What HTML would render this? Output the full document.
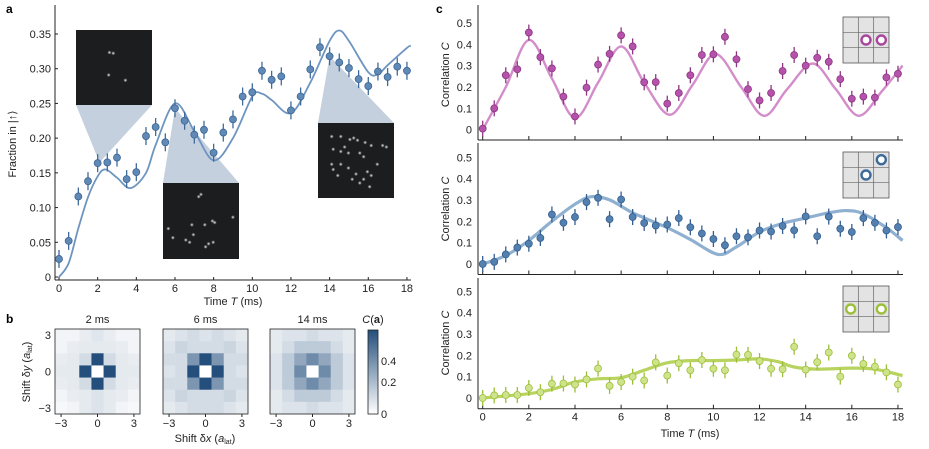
<!DOCTYPE html>
<html><head><meta charset="utf-8"><style>
body{margin:0;background:#fff;}
svg{display:block;font-family:"Liberation Sans",sans-serif;}
</style></head><body>
<svg id="fig" width="929" height="449" viewBox="0 0 929 449" xmlns="http://www.w3.org/2000/svg">
<defs>
<linearGradient id="cbar" x1="0" y1="1" x2="0" y2="0"><stop offset="0" stop-color="#ffffff"/><stop offset="1" stop-color="#244f7c"/></linearGradient>
<radialGradient id="dot"><stop offset="0" stop-color="#e8e8e8"/><stop offset="1" stop-color="#e8e8e8" stop-opacity="0"/></radialGradient>
</defs>
<text x="6" y="13" font-size="12" font-weight="bold">a</text>
<text x="6" y="323" font-size="12" font-weight="bold">b</text>
<text x="436" y="13" font-size="12" font-weight="bold">c</text>
<g id="ga"></g><g id="gb"></g><g id="gc"></g>
</svg>
<script>
// ---------- Panel a data ----------
const aTimes=[0,0.5,1,1.5,2,2.5,3,3.5,4,4.5,5,5.5,6,6.5,7,7.5,8,8.5,9,9.5,10,10.5,11,11.5,12,12.5,13,13.5,14,14.5,15,15.5,16,16.5,17,17.5,18];
const aValues=[0.026,0.052,0.116,0.138,0.164,0.165,0.172,0.141,0.151,0.203,0.216,0.194,0.243,0.225,0.205,0.212,0.179,0.208,0.227,0.260,0.266,0.297,0.284,0.289,0.240,0.260,0.299,0.331,0.318,0.309,0.301,0.285,0.275,0.296,0.288,0.303,0.297];
const aFitT=[0,0.5,1,1.5,2,2.4,3,3.7,4.5,5,6,7,8,9,10,10.5,11,12,13,14,14.5,15,16,16.5,17,18,18.2];
const aFitV=[0,0.02,0.07,0.115,0.145,0.155,0.143,0.128,0.15,0.19,0.25,0.21,0.168,0.2,0.26,0.264,0.255,0.236,0.28,0.34,0.355,0.34,0.295,0.292,0.305,0.33,0.333];
const aYTicks=[0,0.05,0.10,0.15,0.20,0.25,0.30,0.35];
const aYTickLabels=["0","0.05","0.10","0.15","0.20","0.25","0.30","0.35"];
const aXTicks=[0,2,4,6,8,10,12,14,16,18];
// ---------- Panel b data ----------
const bTitles=["2 ms","6 ms","14 ms"];
const heat2=[[.03,.03,.05,.07,.05,.03,.03],[.03,.05,.06,.06,.06,.05,.03],[.05,.06,.1,.5,.1,.06,.05],[.06,.06,.5,0,.5,.06,.06],[.05,.06,.1,.5,.1,.06,.05],[.03,.05,.06,.08,.06,.05,.03],[.02,.03,.06,.08,.06,.03,.02]];
const heat6=[[.06,.08,.1,.08,.1,.08,.06],[.08,.12,.1,.1,.1,.12,.08],[.1,.1,.3,.5,.3,.1,.1],[.08,.1,.5,0,.5,.1,.08],[.1,.1,.3,.5,.3,.1,.1],[.08,.12,.1,.1,.1,.12,.08],[.06,.08,.1,.1,.1,.08,.06]];
const heat14=[[.06,.08,.08,.1,.08,.08,.06],[.06,.1,.15,.15,.15,.1,.06],[.08,.15,.25,.33,.25,.15,.08],[.08,.15,.33,0,.33,.15,.08],[.08,.15,.25,.33,.25,.15,.08],[.06,.1,.15,.15,.15,.1,.06],[.06,.08,.08,.1,.08,.08,.06]];
// ---------- Panel c data ----------
const cTimes=aTimes;
const cMagenta=[0.005,0.10,0.255,0.283,0.455,0.34,0.287,0.155,0.062,0.197,0.305,0.355,0.442,0.39,0.222,0.223,0.122,0.172,0.255,0.35,0.353,0.435,0.33,0.19,0.137,0.172,0.275,0.35,0.30,0.337,0.318,0.237,0.145,0.155,0.15,0.245,0.262];
const cBlue=[0,0.01,0.045,0.077,0.095,0.122,0.232,0.193,0.22,0.29,0.31,0.21,0.302,0.22,0.192,0.18,0.185,0.215,0.172,0.143,0.117,0.088,0.13,0.125,0.157,0.152,0.178,0.158,0.223,0.13,0.222,0.165,0.15,0.215,0.193,0.157,0.173];
const cGreen=[0,0.012,0.014,0.014,0.047,0.027,0.067,0.068,0.063,0.087,0.138,0.057,0.075,0.1,0.082,0.167,0.105,0.163,0.13,0.178,0.137,0.13,0.203,0.202,0.173,0.137,0.135,0.24,0.133,0.168,0.213,0.1,0.198,0.16,0.147,0.12,0.063];
const mFitT=[0,1,2,3,4,5,6,7,8.1,9.1,10.1,11.2,12.2,13.2,14.3,15.3,16.3,17.3,18.2];
const mFitV=[0,0.2,0.42,0.24,0.055,0.22,0.39,0.22,0.07,0.21,0.355,0.2,0.065,0.19,0.31,0.19,0.065,0.18,0.3];
const bFitT=[0,1,2,3,4,4.7,5.5,6.5,8,9,10.2,11,12,13,14,15,15.8,16.5,17.5,18.2];
const bFitV=[0,0.04,0.11,0.2,0.28,0.315,0.3,0.24,0.17,0.115,0.045,0.08,0.15,0.19,0.215,0.24,0.25,0.235,0.17,0.11];
const gFitT=[0,1,2,3,4,5,6,7,8,9,10,11,12,12.8,13.5,14.5,16,17,18.2];
const gFitV=[0,0.01,0.02,0.04,0.075,0.09,0.095,0.13,0.165,0.175,0.175,0.178,0.183,0.17,0.145,0.135,0.14,0.135,0.105];
const cYTicks=[0,0.1,0.2,0.3,0.4,0.5];
const cYTickLabels=["0","0.1","0.2","0.3","0.4","0.5"];
const cXTicks=[0,2,4,6,8,10,12,14,16,18];

const NS="http://www.w3.org/2000/svg";
function mk(tag,attrs,parent,txt){const e=document.createElementNS(NS,tag);for(const k in attrs)e.setAttribute(k,attrs[k]);if(txt!==undefined)e.textContent=txt;parent.appendChild(e);return e;}
function smooth(pts){let d="M"+pts[0][0].toFixed(1)+","+pts[0][1].toFixed(1);for(let i=0;i<pts.length-1;i++){const p0=pts[Math.max(0,i-1)],p1=pts[i],p2=pts[i+1],p3=pts[Math.min(pts.length-1,i+2)];const c1=[p1[0]+(p2[0]-p0[0])/6,p1[1]+(p2[1]-p0[1])/6],c2=[p2[0]-(p3[0]-p1[0])/6,p2[1]-(p3[1]-p1[1])/6];d+="C"+c1[0].toFixed(1)+","+c1[1].toFixed(1)+" "+c2[0].toFixed(1)+","+c2[1].toFixed(1)+" "+p2[0].toFixed(1)+","+p2[1].toFixed(1);}return d;}

// ================= Panel a =================
const ga=document.getElementById('ga');
const ax=t=>59+t*19.33, ay=v=>277-v*694.3;
function inset(x,y,w,h,apex,top,dots,name){
  const wedge=top? [[x,y],[x+w,y],apex] : [[x,y+h],[x+w,y+h],apex];
  const p=mk('polygon',{points:wedge.map(q=>q.join(',')).join(' '),fill:'#c4d0de'},ga);
  
  
  const r=mk('rect',{x:x,y:y,width:w,height:h,fill:'#1b1d1f'},ga);
  
  
  dots.forEach(d=>{const c=mk('circle',{cx:x+d[0]*w,cy:y+d[1]*h,r:2,fill:'url(#dot)'},ga);});
}
inset(76,30,76,75,[ax(2.1),ay(0.165)],false,[[.44,.3],[.49,.31],[.43,.6],[.65,.67]],'fluorescence-image-2ms');
inset(163,183,76,76,[ax(6),ay(0.243)],true,[[.5,.15],[.47,.18],[.07,.6],[.13,.72],[.38,.55],[.4,.68],[.35,.78],[.55,.55],[.65,.5],[.68,.52],[.92,.45],[.6,.8],[.66,.78],[.56,.84],[.3,.75]],'fluorescence-image-6ms');
inset(318,123,76,75,[ax(14),ay(0.318)],true,[[.18,.18],[.3,.18],[.42,.22],[.47,.2],[.52,.23],[.62,.26],[.7,.3],[.85,.3],[.9,.32],[.2,.35],[.3,.38],[.4,.4],[.55,.4],[.6,.45],[.18,.55],[.3,.55],[.4,.6],[.2,.62],[.26,.7],[.5,.68],[.65,.65],[.7,.7],[.6,.75],[.45,.75],[.55,.8],[.68,.85],[.35,.32],[.78,.55]],'fluorescence-image-14ms');
mk('line',{x1:55,y1:5,x2:55,y2:280,stroke:'#222','stroke-width':1},ga);
mk('line',{x1:55,y1:280,x2:411,y2:280,stroke:'#222','stroke-width':1},ga);
aYTicks.forEach((v,i)=>{mk('line',{x1:55,x2:58,y1:ay(v),y2:ay(v),stroke:'#222'},ga);
  const t=mk('text',{x:51,y:ay(v)+4,'font-size':11,'text-anchor':'end',fill:'#222'},ga,aYTickLabels[i]);
  });
aXTicks.forEach(v=>{mk('line',{x1:ax(v),x2:ax(v),y1:280,y2:277,stroke:'#222'},ga);
  const t=mk('text',{x:ax(v),y:292,'font-size':11,'text-anchor':'middle',fill:'#222'},ga,String(v));
  });
let yt=mk('text',{x:0,y:0,'font-size':11,'text-anchor':'middle',fill:'#222',transform:'translate(16,144) rotate(-90)'},ga,'Fraction in |↑⟩');

let xt=mk('text',{x:233,y:305,'font-size':11,'text-anchor':'middle',fill:'#222'},ga);
xt.innerHTML='Time <tspan font-style="italic">T</tspan> (ms)';

let fa=mk('path',{d:smooth(aFitT.map((t,i)=>[ax(t),ay(aFitV[i])])),fill:'none',stroke:'#6e95c0','stroke-width':1.8},ga);

aTimes.forEach((t,i)=>{const x=ax(t),y=ay(aValues[i]);
  const eb=mk('line',{x1:x,x2:x,y1:y-9,y2:y+9,stroke:'#3f6b9b','stroke-width':1.3},ga);
  
  const c=mk('circle',{cx:x,cy:y,r:3.5,fill:'#6089b6',stroke:'#3a6594','stroke-width':0.8},ga);
  });

// ================= Panel b =================
const gb=document.getElementById('gb');
const heats=[heat2,heat6,heat14];const bx0=[55,163,270];
function col(v){const f=Math.min(1,v/0.5);const r=Math.round(255+(36-255)*f),g=Math.round(255+(79-255)*f),b=Math.round(255+(124-255)*f);return `rgb(${r},${g},${b})`;}
heats.forEach((h,k)=>{const x0=bx0[k],y0=329,s=85/7;
  h.forEach((row,r)=>row.forEach((v,c)=>{const e=mk('rect',{x:x0+c*s,y:y0+r*s,width:s+0.3,height:s+0.3,fill:col(v)},gb);
    }));
  const fr=mk('rect',{x:x0,y:y0,width:85,height:85,fill:'none',stroke:'#222','stroke-width':0.8},gb);
  
  const tt=mk('text',{x:x0+42.5,y:323,'font-size':11,'text-anchor':'middle',fill:'#222'},gb,bTitles[k]);
  
  [-3,0,3].forEach(v=>{const xx=x0+42.5+v*s;mk('line',{x1:xx,x2:xx,y1:414,y2:417,stroke:'#222'},gb);
    const t=mk('text',{x:xx,y:427,'font-size':11,'text-anchor':'middle',fill:'#222'},gb,v<0?'−3':String(v));
    });
});
[3,0,-3].forEach(v=>{const yy=371.5-v*85/7;
  const t=mk('text',{x:51,y:yy+4,'font-size':11,'text-anchor':'end',fill:'#222'},gb,v<0?'−3':String(v));
  });
let byt=mk('text',{x:0,y:0,'font-size':11,'text-anchor':'middle',fill:'#222',transform:'translate(30,372) rotate(-90)'},gb);
byt.innerHTML='Shift δ<tspan font-style="italic">y</tspan> (<tspan font-style="italic">a</tspan><tspan font-size="7" dy="2">lat</tspan><tspan dy="-2">)</tspan>';

let bxt=mk('text',{x:205,y:442,'font-size':11,'text-anchor':'middle',fill:'#222'},gb);
bxt.innerHTML='Shift δ<tspan font-style="italic">x</tspan> (<tspan font-style="italic">a</tspan><tspan font-size="7" dy="2">lat</tspan><tspan dy="-2">)</tspan>';

let cb=mk('rect',{x:368,y:330,width:10,height:84,fill:'url(#cbar)',stroke:'#222','stroke-width':0.8},gb);

let cbt=mk('text',{x:373,y:323,'font-size':11,'text-anchor':'middle',fill:'#222'},gb);
cbt.innerHTML='<tspan font-style="italic">C</tspan>(<tspan font-weight="bold">a</tspan>)';

[['0.4',365],['0.2',386],['0',418]].forEach(l=>{const t=mk('text',{x:381,y:l[1],'font-size':11,fill:'#222'},gb,l[0]);
  });

// ================= Panel c =================
const gc=document.getElementById('gc');
const cx=t=>482.7+t*23.07;
const panels=[
 {zero:129.7,spine:140,vals:cMagenta,ft:mFitT,fv:mFitV,pf:'#b552a9',ps:'#8e3584',lc:'#d38dca',lw:2.4,top:5,name:'nn-horizontal',box:17,circ:[[1,1],[1,2]],cc:'#a8459c'},
 {zero:264,spine:274.5,vals:cBlue,ft:bFitT,fv:bFitV,pf:'#5480b0',ps:'#335f8f',lc:'#8fb0d1',lw:3.2,top:143,name:'diagonal',box:152,circ:[[0,2],[1,1]],cc:'#3c6a9a'},
 {zero:398,spine:408.7,vals:cGreen,ft:gFitT,fv:gFitV,pf:'#cfe38a',ps:'#9cbf3a',lc:'#b8d35e',lw:3.2,top:278,name:'next-nearest',box:286,circ:[[1,0],[1,2]],cc:'#9cbf3a'}];
panels.forEach((P,k)=>{
  const cy=v=>P.zero-v*213.5;
  mk('line',{x1:478,y1:P.top,x2:478,y2:P.spine,stroke:'#222'},gc);
  const sp=mk('line',{x1:478,y1:P.spine,x2:903,y2:P.spine,stroke:'#222'},gc);
  
  cXTicks.forEach(v=>{mk('line',{x1:cx(v),x2:cx(v),y1:P.spine,y2:P.spine-4,stroke:'#222'},gc);
    if(k===2){const t=mk('text',{x:cx(v),y:P.spine+12,'font-size':11,'text-anchor':'middle',fill:'#222'},gc,String(v));
      }});
  cYTicks.forEach((v,i)=>{const t=mk('text',{x:472,y:cy(v)+4,'font-size':11,'text-anchor':'end',fill:'#222'},gc,cYTickLabels[i]);
    });
  const yt=mk('text',{x:0,y:0,'font-size':11,'text-anchor':'middle',fill:'#222',transform:`translate(449,${P.zero-55}) rotate(-90)`},gc);
  yt.innerHTML='Correlation <tspan font-style="italic">C</tspan>';
  
  const bx=843,by=P.box,s=46/3;
  const ib=mk('rect',{x:bx,y:by,width:46,height:46,fill:'#e3e3e3',stroke:'#555','stroke-width':0.8},gc);
  
  [1,2].forEach(i=>{mk('line',{x1:bx+i*s,x2:bx+i*s,y1:by,y2:by+46,stroke:'#666','stroke-width':0.7},gc);mk('line',{x1:bx,x2:bx+46,y1:by+i*s,y2:by+i*s,stroke:'#666','stroke-width':0.7},gc);});
  P.circ.forEach(q=>{const c=mk('circle',{cx:bx+(q[1]+0.5)*s,cy:by+(q[0]+0.5)*s,r:4.5,fill:'#fff',stroke:P.cc,'stroke-width':2.4},gc);
    });
  const f=mk('path',{d:smooth(P.ft.map((t,i)=>[cx(t),cy(P.fv[i])])),fill:'none',stroke:P.lc,'stroke-width':P.lw},gc);
  
  cTimes.forEach((t,i)=>{const x=cx(t),y=cy(P.vals[i]);
    const eb=mk('line',{x1:x,x2:x,y1:y-8,y2:y+8,stroke:P.ps,'stroke-width':1.3},gc);
    
    const c=mk('circle',{cx:x,cy:y,r:3.5,fill:P.pf,stroke:P.ps,'stroke-width':0.8},gc);
    });
});
let cxt=mk('text',{x:690,y:437,'font-size':11,'text-anchor':'middle',fill:'#222'},gc);
cxt.innerHTML='Time <tspan font-style="italic">T</tspan> (ms)';

</script>
</body></html>
